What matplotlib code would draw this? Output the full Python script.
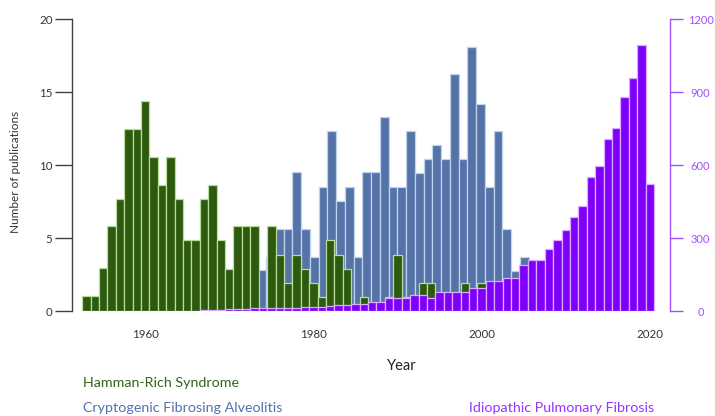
import matplotlib
matplotlib.use("Agg")
import matplotlib.pyplot as plt

# ---------------- data ----------------
years_hr = list(range(1953, 2001))
hamman_rich = [1.0, 1.0, 2.97, 5.8, 7.7, 12.5, 12.5, 14.4, 10.57, 8.6,
               10.57, 7.7, 4.86, 4.86, 7.7, 8.6, 4.86, 2.9, 5.8, 5.8,
               5.8, 0, 5.8, 3.84, 1.9, 3.84, 2.9, 1.9, 0.98, 4.86,
               3.84, 2.9, 0, 0.98, 0, 0, 0.98, 3.84, 0.98, 0.98,
               1.9, 1.9, 0, 0, 0, 1.9, 0, 1.9]

years_cfa = list(range(1974, 2005))
cfa = [2.8, 3.7, 5.6, 5.6, 9.5, 5.6, 3.7, 8.5, 12.3, 7.55,
       8.5, 3.7, 9.5, 9.5, 13.3, 8.5, 8.5, 12.3, 9.47, 10.4,
       11.4, 10.4, 16.2, 10.4, 18.06, 14.2, 8.5, 12.3, 5.6, 2.76, 3.7]

years_ipf = list(range(1967, 2021))
ipf = [5, 6, 6, 8, 10, 10, 12, 12, 12, 13,
       13, 14, 16, 18, 18, 20, 25, 25, 27, 30,
       38, 38, 55, 55, 55, 65, 65, 55, 79, 79,
       79, 79, 93, 96, 123, 123, 134, 134, 188, 208,
       208, 256, 290, 334, 386, 433, 549, 594, 708, 752,
       878, 958, 1094, 522]

x_ticks = [1960, 1980, 2000, 2020]
left_ticks = [0, 5, 10, 15, 20]
right_ticks = [0, 300, 600, 900, 1200]

labels = ["Hamman-Rich Syndrome", "Cryptogenic Fibrosing Alveolitis",
          "Idiopathic Pulmonary Fibrosis"]

# ---------------- style ----------------
C_GREEN, E_GREEN = "#2d5a0f", "#b9dc9c"
C_BLUE, E_BLUE = "#5673a8", "#bfd2ee"
C_PURPLE, E_PURPLE = "#7f00fa", "#dcaaff"
C_RAXIS = "#a050ff"
C_TEXT = "#333333"

plt.rcParams['font.family'] = ['Lato', 'DejaVu Sans']

fig = plt.figure(figsize=(7.15, 4.16), dpi=100)
ax = fig.add_axes([0.1007, 0.2524, 0.8364, 0.7019])
ax_cfa = ax.twiny()      # the CFA series was overlaid with a slightly different bar pitch
ax_ipf = ax.twinx()

ax_cfa.set_zorder(0)
ax.set_zorder(1)
ax_ipf.set_zorder(2)
ax.patch.set_visible(False)
ax_ipf.patch.set_visible(False)

# x limits
main_xlim = (1951.3, 2022.4)
cfa_anchor_main, cfa_pitch = 1973.86, 1.04
ax.set_xlim(*main_xlim)
ax_cfa.set_xlim(1974 + (main_xlim[0] - cfa_anchor_main) / cfa_pitch,
                1974 + (main_xlim[1] - cfa_anchor_main) / cfa_pitch)
ax.set_ylim(0, 20)
ax_ipf.set_ylim(0, 1200)

# bars
ax_cfa.bar(years_cfa, cfa, width=1.0, color=C_BLUE, edgecolor=E_BLUE, linewidth=0.9)
ax.bar(years_hr, hamman_rich, width=1.0, color=C_GREEN, edgecolor=E_GREEN, linewidth=0.9)
ax_ipf.bar(years_ipf, ipf, width=1.0, color=C_PURPLE, edgecolor=E_PURPLE, linewidth=0.9)

# CFA helper axis: invisible
for s in ax_cfa.spines.values():
    s.set_visible(False)
ax_cfa.set_xticks([])
ax_cfa.tick_params(axis='both', length=0, labeltop=False)

# main axis
for side in ("top", "right", "bottom"):
    ax.spines[side].set_visible(False)
ax.spines["left"].set_color("#404040")
ax.spines["left"].set_linewidth(1.0)
ax.set_yticks(left_ticks)
ax.set_xticks(x_ticks)
ax.tick_params(axis='y', length=12, width=1, color="#404040", pad=2,
               labelsize=8.3, labelcolor=C_TEXT)
ax.tick_params(axis='x', length=0, pad=13, labelsize=8.3, labelcolor=C_TEXT)

# right axis
for side in ("top", "left", "bottom"):
    ax_ipf.spines[side].set_visible(False)
ax_ipf.spines["right"].set_color(C_RAXIS)
ax_ipf.spines["right"].set_linewidth(1.0)
ax_ipf.set_yticks(right_ticks)
ax_ipf.tick_params(axis='y', length=9, width=1, color=C_RAXIS, pad=13,
                   labelsize=8, labelcolor=C_RAXIS)
for t in ax_ipf.get_yticklabels():
    t.set_ha("center")

# labels
fig.text(0.021, 0.587, "Number of publications", rotation=90, ha="center",
         va="center", fontsize=8.5, color=C_TEXT)
fig.text(0.562, 0.120, "Year", ha="center", va="center", fontsize=10.5, color="#222222")
fig.text(0.116, 0.079, labels[0], ha="left", va="center", fontsize=10.3, color="#35641a")
fig.text(0.116, 0.019, labels[1], ha="left", va="center", fontsize=10.3, color="#4f72b0")
fig.text(0.656, 0.019, labels[2], ha="left", va="center", fontsize=10.3, color="#9533ff")

fig.savefig("out.png", dpi=100)
